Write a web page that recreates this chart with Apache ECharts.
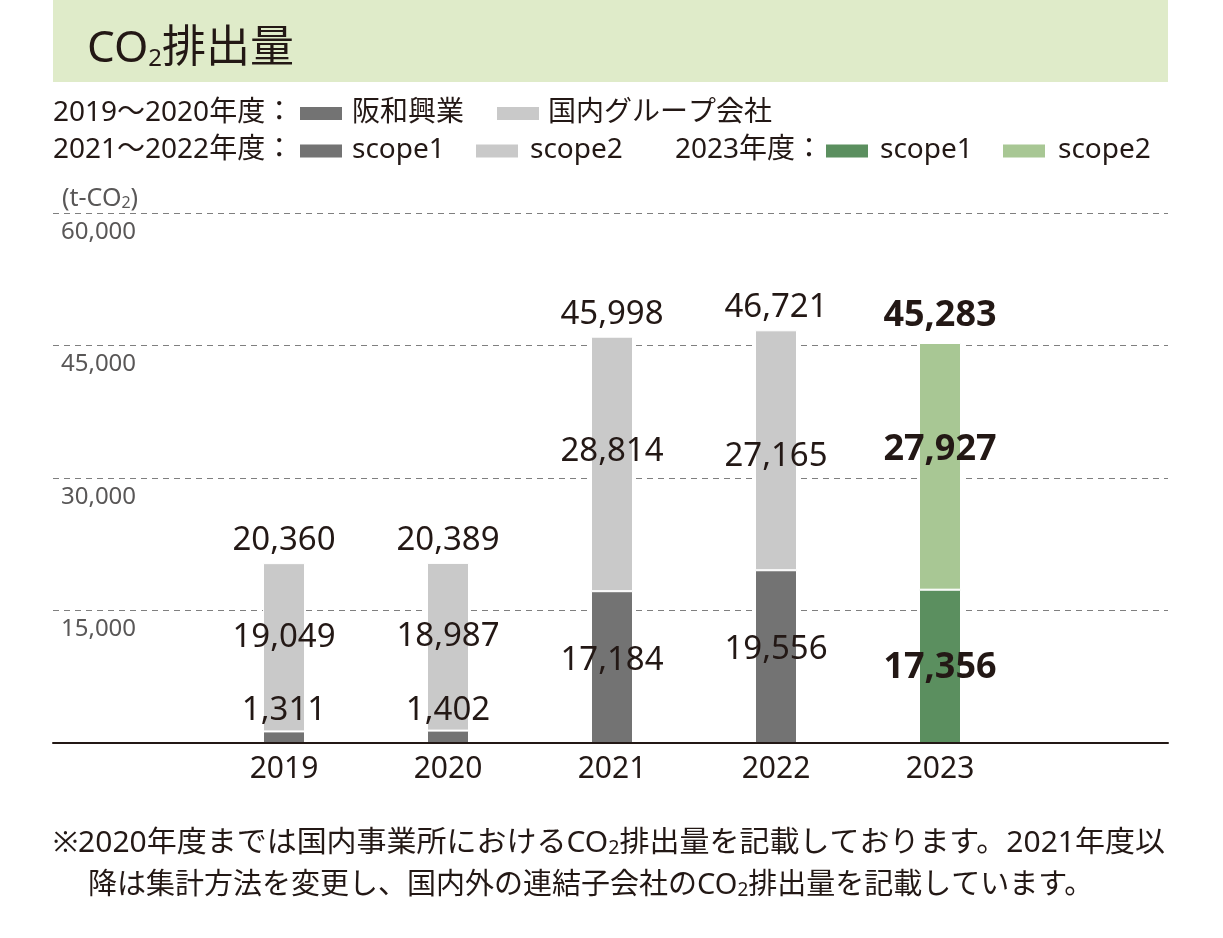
<!DOCTYPE html>
<html><head><meta charset="utf-8">
<script src="https://cdn.jsdelivr.net/npm/echarts@6/dist/echarts.min.js"></script>
<style>html,body{margin:0;padding:0;background:#fff}#c{width:1223px;height:938px}</style>
</head><body><div id="c"></div>
<script>
// ---- data ----
const years = ['2019', '2020', '2021', '2022', '2023'];
const scope1 = [1311, 1402, 17184, 19556, 17356];   // 阪和興業 (2019-20) / scope1
const scope2 = [19049, 18987, 28814, 27165, 27927]; // 国内グループ会社 (2019-20) / scope2
const totals = [20360, 20389, 45998, 46721, 45283];
const yTickValues = [0, 15000, 30000, 45000, 60000];

// ---- style ----
const FONT = '"Noto Sans", "Noto Sans CJK JP", sans-serif';
const INK = '#231815';
const GRAY_TXT = '#595757';
const C_DARK = '#737373', C_LIGHT = '#c9c9c9', C_GREEN = '#5b8f5f', C_LGREEN = '#a8c794';
const fmt = v => Number(v).toLocaleString('en-US');
const isLast = i => i === years.length - 1;
const LBL = 33, LBL_B = 36;

const s1Data = scope1.map((v, i) => {
  const small = i < 2;
  return {
    value: v,
    itemStyle: { color: isLast(i) ? C_GREEN : C_DARK },
    label: small
      ? { position: 'top', distance: 4 }
      : { position: 'inside', offset: [0, [0, 0, -7, -7, 1][i]],
          fontSize: isLast(i) ? LBL_B : LBL, fontWeight: isLast(i) ? 'bold' : 'normal' }
  };
});
const s2Offsets = [-10, -10, -12, 6, -17];
const s2Data = scope2.map((v, i) => ({
  value: v,
  itemStyle: { color: isLast(i) ? C_LGREEN : C_LIGHT },
  label: { offset: [0, s2Offsets[i]], fontSize: isLast(i) ? LBL_B : LBL, fontWeight: isLast(i) ? 'bold' : 'normal' }
}));
const totData = totals.map((v, i) => ({
  value: v,
  label: { fontSize: isLast(i) ? LBL_B : LBL, fontWeight: isLast(i) ? 'bold' : 'normal',
           distance: isLast(i) ? 9 : 6 }
}));

const labelBase = { show: true, color: INK, fontFamily: FONT, fontSize: LBL, formatter: p => fmt(p.value) };

const GRID_TOP = 213, GRID_BOTTOM = 195;

// legend drawn with graphics
const legendText = (x, y, t) => ({ type: 'text', x, y, style: { text: t, font: '28px ' + FONT, fill: INK, textVerticalAlign: 'middle' } });
const legendRect = (x, y, c) => ({ type: 'rect', shape: { x, y: y - 6.5, width: 42, height: 13 }, style: { fill: c } });
const richCO2 = (big, small, lh, color) => ({
  a: { fontFamily: FONT, fontSize: big, fill: color, lineHeight: lh, verticalAlign: 'bottom' },
  b: { fontFamily: FONT, fontSize: small, fill: color, lineHeight: lh, verticalAlign: 'bottom' }
});

const graphic = [
  { type: 'rect', shape: { x: 53, y: 0, width: 1115, height: 82 }, style: { fill: '#dfebc9' } },
  { type: 'text', x: 87, y: 44, style: {
      text: '{a|CO}{b|2}{a|排出量}', textVerticalAlign: 'middle', rich: richCO2(44, 24, 54, INK) } },
  legendText(53, 113, '2019～2020年度：'),
  legendRect(300, 113.5, C_DARK), legendText(352, 113, '阪和興業'),
  legendRect(497, 113.5, C_LIGHT), legendText(548, 113, '国内グループ会社'),
  legendText(53, 150, '2021～2022年度：'),
  legendRect(300, 151, C_DARK), legendText(352, 150, 'scope1'),
  legendRect(476, 151, C_LIGHT), legendText(530, 150, 'scope2'),
  legendText(675, 150, '2023年度：'),
  legendRect(826, 151, C_GREEN), legendText(880, 150, 'scope1'),
  legendRect(1003, 151, C_LGREEN), legendText(1058, 150, 'scope2'),
  { type: 'text', x: 62, y: 195, style: {
      text: '{a|(t-CO}{b|2}{a|)}', textVerticalAlign: 'middle', rich: richCO2(25, 16, 32, GRAY_TXT) } },
  { type: 'text', x: 53, y: 838, scaleX: 1.034, style: {
      text: '{a|※2020年度までは国内事業所におけるCO}{b|2}{a|排出量を記載しております。2021年度以}',
      textVerticalAlign: 'middle', rich: richCO2(29, 19, 40, INK) } },
  { type: 'text', x: 88, y: 880, style: {
      text: '{a|降は集計方法を変更し、国内外の連結子会社のCO}{b|2}{a|排出量を記載しています。}',
      textVerticalAlign: 'middle', rich: richCO2(29, 19, 40, INK) } }
];

const option = {
  animation: false,
  backgroundColor: '#fff',
  textStyle: { fontFamily: FONT },
  grid: [
    { left: 53, right: 55, top: GRID_TOP, bottom: GRID_BOTTOM },
    { left: 202, right: 201, top: GRID_TOP, bottom: GRID_BOTTOM }
  ],
  xAxis: [
    { gridIndex: 0, type: 'category', data: years, axisTick: { show: false }, axisLabel: { show: false },
      axisLine: { lineStyle: { color: INK, width: 2 } }, z: 10 },
    { gridIndex: 1, type: 'category', data: years, axisTick: { show: false }, axisLine: { show: false },
      axisLabel: { color: INK, fontSize: 30, fontFamily: FONT, margin: 11 } }
  ],
  yAxis: [
    { gridIndex: 0, type: 'value', min: yTickValues[0], max: yTickValues[yTickValues.length - 1],
      interval: yTickValues[1] - yTickValues[0],
      axisLine: { show: false }, axisTick: { show: false },
      splitLine: { lineStyle: { color: '#7f7f7f', type: [6, 5], width: 1 } },
      axisLabel: { inside: true, margin: 8, verticalAlign: 'top', padding: [7, 0, 0, 0],
        color: GRAY_TXT, fontSize: 24, fontFamily: FONT,
        formatter: v => (v === 0 ? '' : fmt(v)) } },
    { gridIndex: 1, type: 'value', min: yTickValues[0], max: yTickValues[yTickValues.length - 1],
      interval: yTickValues[1] - yTickValues[0], show: false, splitLine: { show: false } }
  ],
  series: [
    { name: 'scope1', type: 'bar', stack: 'co2', xAxisIndex: 1, yAxisIndex: 1, barWidth: 42,
      itemStyle: { borderColor: '#fff', borderWidth: 1 },
      label: Object.assign({}, labelBase, { position: 'inside' }), data: s1Data, z: 3 },
    { name: 'scope2', type: 'bar', stack: 'co2', xAxisIndex: 1, yAxisIndex: 1, barWidth: 42,
      itemStyle: { borderColor: '#fff', borderWidth: 1 },
      label: Object.assign({}, labelBase, { position: 'inside' }), data: s2Data, z: 3 },
    { name: 'total', type: 'scatter', xAxisIndex: 1, yAxisIndex: 1, symbolSize: 0,
      itemStyle: { opacity: 1 },
      label: Object.assign({}, labelBase, { position: 'top', distance: 6 }), data: totData, z: 4 }
  ],
  graphic: graphic
};

const chart = echarts.init(document.getElementById('c'), null, { renderer: 'canvas' });
chart.setOption(option);
</script>
</body></html>
